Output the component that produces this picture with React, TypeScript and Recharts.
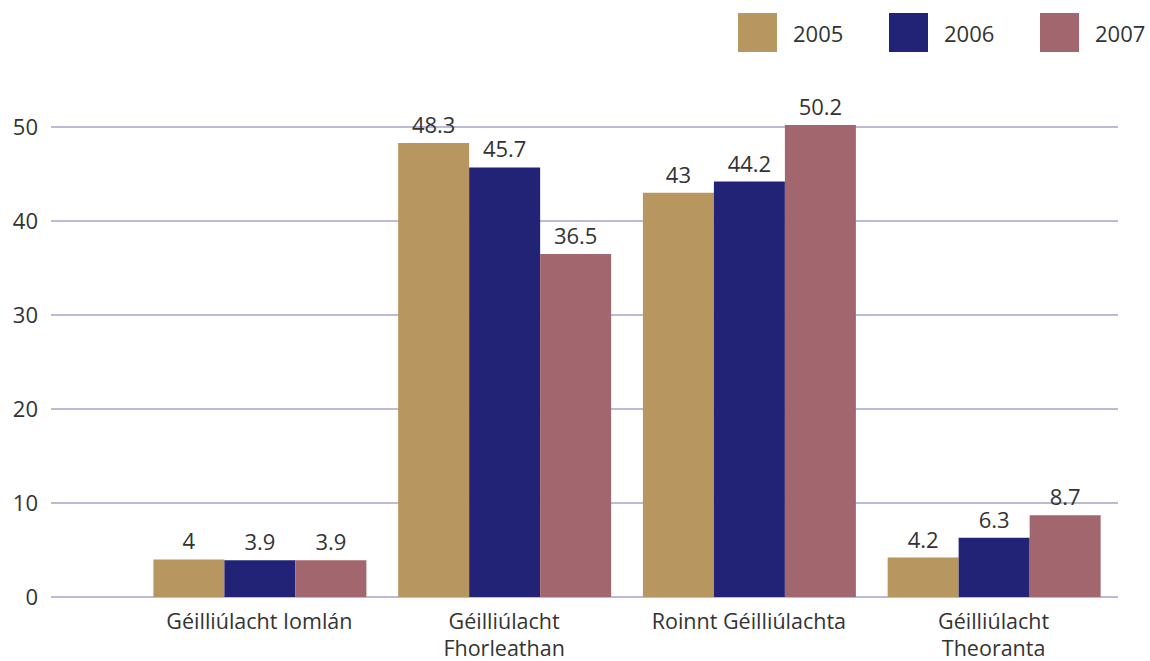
import { BarChart, Bar, XAxis, YAxis, CartesianGrid, Legend, LabelList } from "recharts";

const categories = ["Géilliúlacht Iomlán", "Géilliúlacht\nFhorleathan", "Roinnt Géilliúlachta", "Géilliúlacht\nTheoranta"];
const values2005 = [4, 48.3, 43, 4.2];
const values2006 = [3.9, 45.7, 44.2, 6.3];
const values2007 = [3.9, 36.5, 50.2, 8.7];
const yTicks = [0, 10, 20, 30, 40, 50];

const series = [
  { key: "y2005", name: "2005", color: "#b8965f" },
  { key: "y2006", name: "2006", color: "#222277" },
  { key: "y2007", name: "2007", color: "#a2666f" },
];

const data = categories.map((c, i) => ({
  cat: c,
  y2005: values2005[i],
  y2006: values2006[i],
  y2007: values2007[i],
}));

const FONT = "'Open Sans', 'Noto Sans', sans-serif";

const CatTick = (props: any) => {
  const { x, y, payload } = props;
  const lines = String(payload.value).split("\n");
  return (
    <g transform={`translate(${x},${y})`}>
      {lines.map((l, i) => (
        <text key={i} x={0} y={16 + i * 27} dy="0.35em" textAnchor="middle" fill="#333" fontSize={21.5} fontFamily={FONT}>
          {l}
        </text>
      ))}
    </g>
  );
};

const LegendBox = () => (
  <div style={{ display: "flex", fontFamily: FONT, fontSize: 22, color: "#333" }}>
    {series.map((s) => (
      <div key={s.key} style={{ display: "flex", alignItems: "center", width: 151, flexShrink: 0 }}>
        <div style={{ width: 39, height: 39, background: s.color, marginRight: 16 }} />
        <span>{s.name}</span>
      </div>
    ))}
  </div>
);

export default function App() {
  return (
    <div style={{ position: "absolute", left: 0, top: 0, background: "#fff" }}>
      <BarChart
        width={1150}
        height={661}
        data={data}
        margin={{ top: 41, right: 32, bottom: 34, left: 0 }}
        barCategoryGap="6.7%"
        barGap={0}
      >
        <CartesianGrid vertical={false} horizontalValues={yTicks} stroke="#a7a3cc" strokeWidth={1.3} />
        <XAxis
          dataKey="cat"
          axisLine={false}
          tickLine={false}
          interval={0}
          tick={<CatTick />}
          padding={{ left: 86, right: 2 }}
        />
        <YAxis
          width={51}
          domain={[0, 55]}
          ticks={yTicks}
          axisLine={false}
          tickLine={false}
          tick={{ fill: "#333", fontSize: 22, fontFamily: FONT, dx: -5 }}
        />
        <Legend
          verticalAlign="top"
          align="left"
          content={<LegendBox />}
          wrapperStyle={{ top: 13, left: 738, width: 412 }}
        />
        {series.map((s) => (
          <Bar key={s.key} dataKey={s.key} name={s.name} fill={s.color} isAnimationActive={false}>
            <LabelList
              dataKey={s.key}
              position="top"
              offset={10}
              fill="#333"
              fontSize={22}
              fontFamily={FONT}
            />
          </Bar>
        ))}
      </BarChart>
    </div>
  );
}
